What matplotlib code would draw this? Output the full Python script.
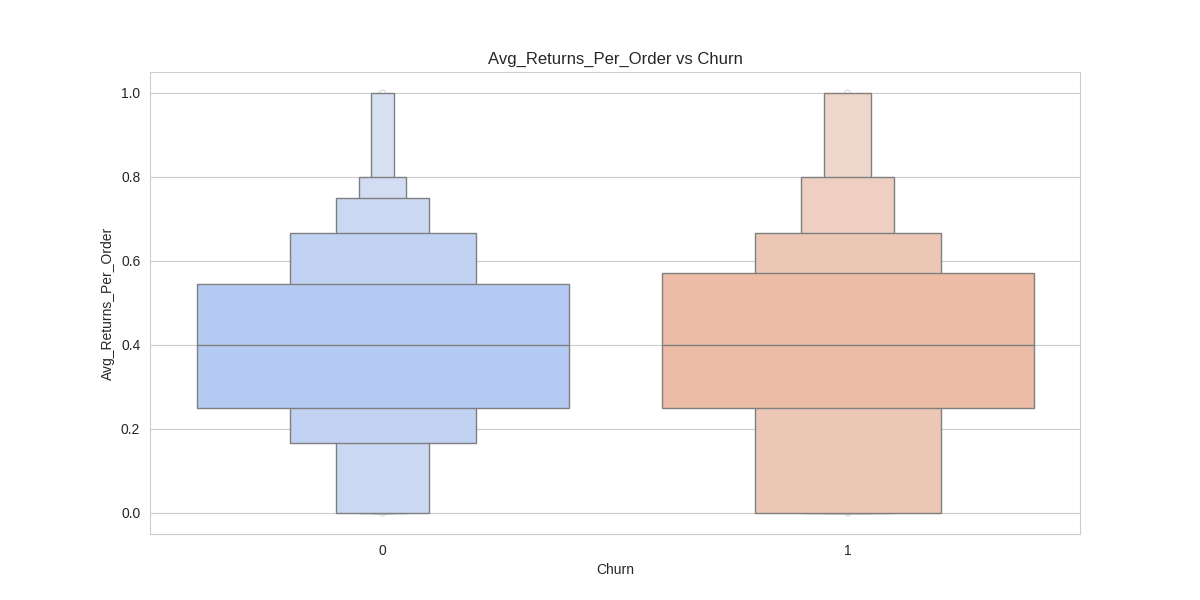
import matplotlib
matplotlib.use("Agg")
import matplotlib.pyplot as plt
from matplotlib.patches import Rectangle
import numpy as np
import seaborn as sns

# Data: letter-value box bounds per category (outermost -> innermost)
categories = ["0", "1"]
medians = [0.4, 0.4]
lower_0 = [0.0, 0.0, 0.0, 0.1667, 0.25]
upper_0 = [1.0, 0.8, 0.75, 0.6667, 0.545]
lower_1 = [0.0, 0.0, 0.0, 0.25]
upper_1 = [1.0, 0.8, 0.6667, 0.5714]
lowers = [lower_0, lower_1]
uppers = [upper_0, upper_1]
fliers_0 = [0.0, 1.0]
fliers_1 = [0.0, 1.0]
fliers = [fliers_0, fliers_1]

sns.set_style("whitegrid")
plt.rcParams['font.family'] = ['Liberation Sans', 'DejaVu Sans']

fig, ax = plt.subplots(figsize=(12, 6), dpi=100)

palette = sns.color_palette("coolwarm", 2, desat=0.75)
width = 0.8
edge = "#7f7f7f"

for i, cat in enumerate(categories):
    lo = np.array(lowers[i])
    hi = np.array(uppers[i])
    n = len(lo)
    levels = np.arange(n)
    depth = levels.max() - levels  # 0 = innermost box
    rel_widths = 2.0 ** levels
    widths = width * rel_widths / rel_widths.max()
    cmap = sns.light_palette(palette[i], as_cmap=True)
    boxcolors = cmap(2 ** (-depth / 3.0))
    ax.scatter([i] * len(fliers[i]), fliers[i], s=18, facecolor="none",
               edgecolor="#d8d8d8", linewidth=0.8, zorder=1.5)
    for j in range(n):
        ax.add_patch(Rectangle((i - widths[j] / 2, lo[j]), widths[j], hi[j] - lo[j],
                               facecolor=boxcolors[j], edgecolor=edge, linewidth=1, zorder=2))
    ax.plot([i - width / 2, i + width / 2], [medians[i], medians[i]], color=edge, linewidth=1, zorder=3)

ax.set_xlim(-0.5, len(categories) - 0.5)
ax.set_ylim(-0.05, 1.05)
ax.set_xticks(range(len(categories)))
ax.set_xticklabels(categories)
ax.xaxis.grid(False)
ax.set_yticks([0.0, 0.2, 0.4, 0.6, 0.8, 1.0])
ax.set_axisbelow(True)
ax.set_title("Avg_Returns_Per_Order vs Churn")
ax.set_xlabel("Churn")
ax.set_ylabel("Avg_Returns_Per_Order")

fig.savefig("out.png", dpi=100)
